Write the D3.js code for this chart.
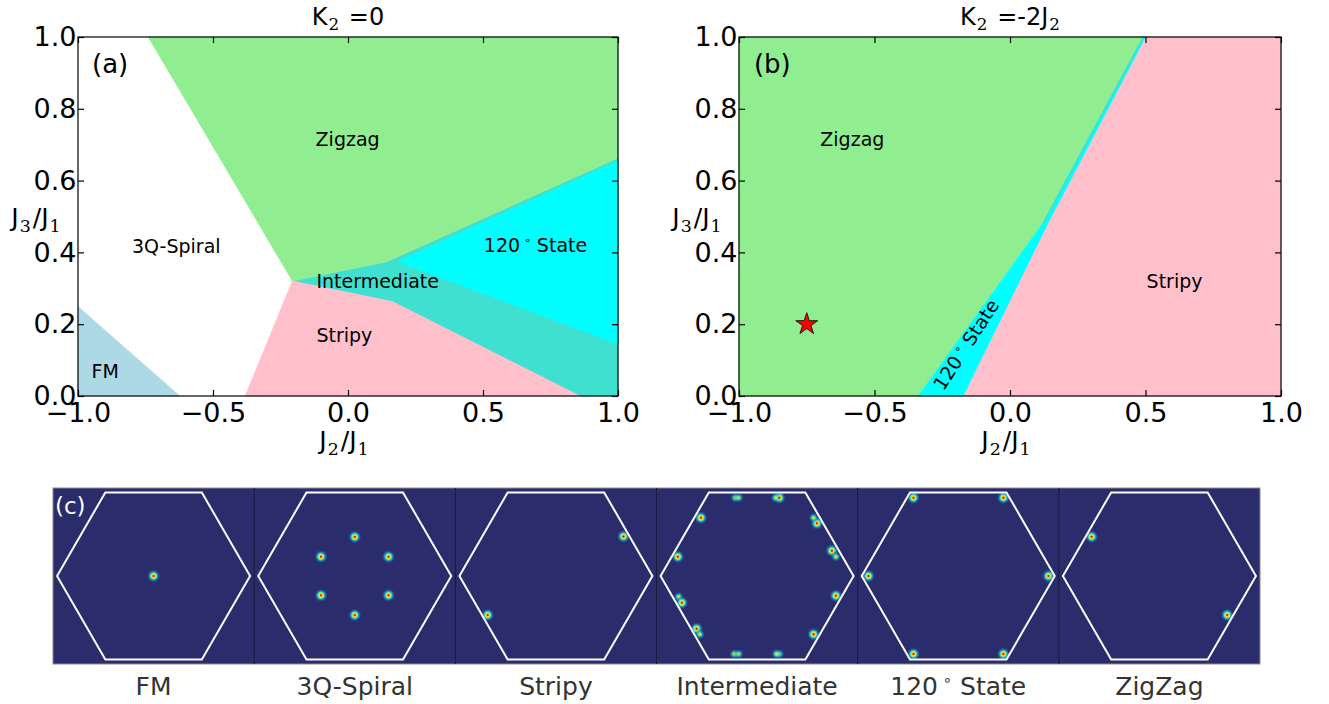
<!DOCTYPE html>
<html>
<head>
<meta charset="utf-8">
<title>Phase diagram</title>
<script src="https://cdn.jsdelivr.net/npm/d3@7"></script>
<style>
    body { margin: 0; background: #fff; }
    text { font-family: "DejaVu Sans", sans-serif; }
</style>
</head>
<body>
<svg width="1329" height="704" id="mainsvg"></svg>
<script>
// ---------------- data ----------------
const j2Ticks = [-1, -0.5, 0, 0.5, 1];
const j3Ticks = [0, 0.2, 0.4, 0.6, 0.8, 1];

// panel (a): K2 = 0, regions in (J2/J1, J3/J1)
const a3QSpiral     = [[-1, 1], [-0.74, 1], [-0.206, 0.32], [-0.381, 0], [-1, 0]];
const aIntermediate = [[-0.206, 0.32], [0.143, 0.374], [1, 0.663], [1, 0], [0.859, 0], [0.164, 0.263]];
const aZigzag       = [[-0.74, 1], [1, 1], [1, 0.663], [0.143, 0.374], [-0.206, 0.32]];
const aStripy       = [[-0.206, 0.32], [0.164, 0.263], [0.859, 0], [-0.381, 0]];
const a120State     = [[0.185, 0.374], [1, 0.655], [1, 0.145]];
const aFM           = [[-1, 0.249], [-0.623, 0], [-1, 0]];

// panel (b): K2 = -2 J2
const bZigzag       = [[-1, 0], [-0.339, 0], [0.12, 0.48], [0.491, 1], [-1, 1]];
const b120State     = [[-0.339, 0], [-0.173, 0], [0.134, 0.472], [0.5, 1], [0.491, 1], [0.12, 0.48]];
const bIntermediate = [[0.12, 0.48], [0.491, 1], [0.496, 1], [0.125, 0.479]];
const bStripy       = [[-0.173, 0], [1, 0], [1, 1], [0.5, 1], [0.134, 0.472]];
const bStar         = [-0.75, 0.2];

// region labels (text, data position)
const aLabelText = ["Zigzag", "3Q-Spiral", "120°", "Intermediate", "Stripy", "FM"];
const aLabelPos  = [[-0.12, 0.696], [-0.80, 0.398], [0.503, 0.40], [-0.117, 0.30], [-0.117, 0.151], [-0.95, 0.05]];
const bLabelText = ["Zigzag", "Stripy"];
const bLabelPos  = [[-0.70, 0.696], [0.504, 0.30]];
const bRotLabelPos = [-0.245, 0.012];

// panel (c): structure factor peaks, in units of the zone-corner distance
const sfNames = ["FM", "3Q-Spiral", "Stripy", "Intermediate", "120°", "ZigZag"];
const sfPeaks = [
    [[0, 0, 1]],
    [[0, 0.405, 1], [0.35, 0.2, 1], [0.35, -0.2, 1], [0, -0.405, 1], [-0.35, 0.2, 1], [-0.35, -0.2, 1]],
    [[0.70, 0.41, 1], [-0.707, -0.404, 1]],
    [[-0.226, 0.811, 0.7], [-0.19, 0.811, 0.6], [0.230, 0.811, 1], [0.19, 0.811, 0.6],
     [-0.582, 0.604, 1], [0.620, 0.546, 1], [0.585, 0.604, 0.7],
     [-0.821, 0.200, 1], [0.775, 0.262, 1], [0.817, 0.200, 0.7], [0.817, -0.204, 1],
     [-0.813, -0.215, 0.7], [-0.779, -0.277, 1], [-0.627, -0.546, 1], [-0.593, -0.604, 0.7],
     [0.585, -0.604, 1], [-0.236, -0.808, 0.7], [-0.19, -0.808, 0.6], [0.230, -0.808, 0.7], [0.20, -0.808, 0.7]],
    [[-0.464, 0.811, 1], [0.468, 0.811, 1], [-0.931, 0, 1], [0.935, 0, 1], [-0.464, -0.808, 1], [0.468, -0.808, 1]],
    [[-0.702, 0.407, 1], [0.702, -0.404, 1]]
];
const hexAngles = [0, 60, 120, 180, 240, 300];

// ---------------- layout ----------------
const main_svg = d3.select("#mainsvg");
const frameA = {left: 78, right: 618, top: 37, bottom: 396};
const frameB = {left: 739, right: 1281, top: 37, bottom: 396};
const colors = {
    zig: "#90ee90", stripy: "#ffc0cb", inter: "#40e0d0",
    cyan: "#00ffff", fm: "#add8e6", spiral: "#ffffff"
};

const line = d3.line();

function makePanel(frame) {
    const x = d3.scaleLinear().domain([-1, 1]).range([frame.left, frame.right]);
    const y = d3.scaleLinear().domain([0, 1]).range([frame.bottom, frame.top]);
    return {x, y, g: main_svg.append("g")};
}

function drawRegion(p, pts, fill) {
    p.g.append("path")
        .attr("d", line(pts.map(d => [p.x(d[0]), p.y(d[1])])) + "Z")
        .attr("fill", fill)
        .attr("stroke", fill)
        .attr("stroke-width", 0.6);
}

function drawAxes(p) {
    const fmt = d3.format(".1f");
    const [x0, x1] = p.x.range();
    const [y0, y1] = p.y.range();
    p.g.append("rect")
        .attr("x", x0).attr("y", y1)
        .attr("width", x1 - x0).attr("height", y0 - y1)
        .attr("fill", "none").attr("stroke", "#000").attr("stroke-width", 1.2);

    const bottom = p.g.append("g").attr("transform", `translate(0,${y0})`)
        .call(d3.axisBottom(p.x).tickValues(j2Ticks).tickSize(-6).tickSizeOuter(0).tickPadding(7).tickFormat(fmt));
    const left = p.g.append("g").attr("transform", `translate(${x0},0)`)
        .call(d3.axisLeft(p.y).tickValues(j3Ticks).tickSize(-6).tickSizeOuter(0).tickPadding(1.5).tickFormat(fmt));
    const top = p.g.append("g").attr("transform", `translate(0,${y1})`)
        .call(d3.axisTop(p.x).tickValues(j2Ticks).tickSize(-6).tickSizeOuter(0).tickFormat(""));
    const right = p.g.append("g").attr("transform", `translate(${x1},0)`)
        .call(d3.axisRight(p.y).tickValues(j3Ticks).tickSize(-6).tickSizeOuter(0).tickFormat(""));

    [bottom, left, top, right].forEach(a => {
        a.selectAll(".domain").remove();
        a.selectAll("line").attr("stroke", "#000").attr("stroke-width", 1.2);
        a.attr("font-family", "DejaVu Sans").attr("font-size", 27);
        a.selectAll("text").attr("fill", "#000");
    });
}

// math-like label: base, sub, base, sub ...
function mathText(parent, parts, size) {
    const t = parent.append("text").attr("font-size", size).attr("fill", "#000");
    let down = false;
    parts.forEach((s, i) => {
        const sub = i % 2 === 1;
        const ts = t.append("tspan").text(s);
        if (sub) {
            ts.attr("dy", size * 0.22).attr("dx", 1).attr("font-size", size * 0.7).attr("font-family", "DejaVu Serif");
            down = true;
        } else if (down) {
            ts.attr("dy", -size * 0.22).attr("dx", 2);
            down = false;
        }
    });
    return t;
}

function degreeText(parent, size) {
    const t = parent.append("text").attr("font-size", size).attr("fill", "#000");
    t.append("tspan").text("120");
    t.append("tspan").attr("dy", -size * 0.42).attr("font-size", size * 0.6).text(" ∘");
    t.append("tspan").attr("dy", size * 0.42).text("  State");
    return t;
}

// ---------------- panel (a) ----------------
const pa = makePanel(frameA);
drawRegion(pa, a3QSpiral, colors.spiral);
drawRegion(pa, aIntermediate, colors.inter);
drawRegion(pa, aZigzag, colors.zig);
drawRegion(pa, aStripy, colors.stripy);
drawRegion(pa, a120State, colors.cyan);
drawRegion(pa, aFM, colors.fm);
drawAxes(pa);

aLabelText.forEach((s, i) => {
    const pos = aLabelPos[i];
    if (s === "120°") {
        degreeText(pa.g, 19).attr("x", pa.x(pos[0])).attr("y", pa.y(pos[1]));
    } else {
        pa.g.append("text").attr("x", pa.x(pos[0])).attr("y", pa.y(pos[1]))
            .attr("font-size", 19).attr("fill", "#000").text(s);
    }
});
pa.g.append("text").attr("x", pa.x(-0.948)).attr("y", pa.y(0.9)).attr("font-size", 26).text("(a)");

mathText(pa.g, ["K", "2", " =0"], 24)
    .attr("x", (frameA.left + frameA.right) / 2).attr("y", 25).attr("text-anchor", "middle");
mathText(pa.g, ["J", "2", "/J", "1"], 25)
    .attr("x", (frameA.left + frameA.right) / 2 - 4).attr("y", 449).attr("text-anchor", "middle");
mathText(pa.g, ["J", "3", "/J", "1"], 25)
    .attr("x", 36).attr("y", 226).attr("text-anchor", "middle");

// ---------------- panel (b) ----------------
const pb = makePanel(frameB);
drawRegion(pb, bZigzag, colors.zig);
drawRegion(pb, bStripy, colors.stripy);
drawRegion(pb, b120State, colors.cyan);
drawRegion(pb, bIntermediate, colors.inter);
drawAxes(pb);

bLabelText.forEach((s, i) => {
    pb.g.append("text").attr("x", pb.x(bLabelPos[i][0])).attr("y", pb.y(bLabelPos[i][1]))
        .attr("font-size", 19).attr("fill", "#000").text(s);
});
degreeText(pb.g, 19)
    .attr("transform", `translate(${pb.x(bRotLabelPos[0])},${pb.y(bRotLabelPos[1])}) rotate(-57)`);
pb.g.append("text").attr("x", pb.x(-0.945)).attr("y", pb.y(0.9)).attr("font-size", 26).text("(b)");

pb.g.append("path")
    .attr("d", d3.symbol(d3.symbolStar).size(150)())
    .attr("transform", `translate(${pb.x(bStar[0])},${pb.y(bStar[1])})`)
    .attr("fill", "#ff0000").attr("stroke", "#000").attr("stroke-width", 0.8);

mathText(pb.g, ["K", "2", " =-2J", "2"], 24)
    .attr("x", (frameB.left + frameB.right) / 2).attr("y", 25).attr("text-anchor", "middle");
mathText(pb.g, ["J", "2", "/J", "1"], 25)
    .attr("x", (frameB.left + frameB.right) / 2 - 4).attr("y", 449).attr("text-anchor", "middle");
mathText(pb.g, ["J", "3", "/J", "1"], 25)
    .attr("x", 697).attr("y", 226).attr("text-anchor", "middle");

// ---------------- panel (c) ----------------
const gc = main_svg.append("g");
const boxC = {left: 53, right: 1260, top: 488, bottom: 664};
const cy = 576, hexR = 96.5;
const defs = main_svg.append("defs");

const strong = defs.append("radialGradient").attr("id", "peak");
[[0, "#800000", 1], [0.1, "#ff2000", 1], [0.22, "#ffd800", 1], [0.4, "#70ff90", 0.95],
 [0.62, "#10b0ff", 0.6], [1, "#2a2c6b", 0]].forEach(s =>
    strong.append("stop").attr("offset", s[0]).attr("stop-color", s[1]).attr("stop-opacity", s[2]));
const weak = defs.append("radialGradient").attr("id", "peakweak");
[[0, "#f0ff20", 1], [0.25, "#a0ff60", 0.95], [0.55, "#00c0ff", 0.6], [1, "#2a2c6b", 0]].forEach(s =>
    weak.append("stop").attr("offset", s[0]).attr("stop-color", s[1]).attr("stop-opacity", s[2]));

gc.append("rect")
    .attr("x", boxC.left).attr("y", boxC.top)
    .attr("width", boxC.right - boxC.left).attr("height", boxC.bottom - boxC.top)
    .attr("fill", "#2a2c6b").attr("stroke", "#8a8a8a").attr("stroke-width", 1);

const band = d3.scaleBand().domain(d3.range(sfNames.length)).range([boxC.left, boxC.right]);

sfNames.forEach((name, i) => {
    const cx = band(i) + band.bandwidth() / 2;
    const qx = d3.scaleLinear().domain([-1, 1]).range([cx - hexR, cx + hexR]);
    const qy = d3.scaleLinear().domain([-1, 1]).range([cy + hexR, cy - hexR]);
    const sub = gc.append("g");

    if (i > 0) {
        sub.append("line").attr("x1", band(i)).attr("x2", band(i))
            .attr("y1", boxC.top).attr("y2", boxC.bottom)
            .attr("stroke", "#1a1a3a").attr("stroke-width", 1);
    }

    sub.selectAll("circle.peak").data(sfPeaks[i]).enter().append("circle")
        .attr("class", "peak")
        .attr("cx", d => qx(d[0])).attr("cy", d => qy(d[1]))
        .attr("r", d => d[2] >= 1 ? 7 : 5.5)
        .attr("fill", d => d[2] >= 1 ? "url(#peak)" : "url(#peakweak)")
        .attr("opacity", d => d[2] >= 1 ? 1 : d[2] + 0.2);

    const hex = hexAngles.map(a => [qx(Math.cos(a * Math.PI / 180)), qy(Math.sin(a * Math.PI / 180))]);
    sub.append("path").attr("d", line(hex) + "Z")
        .attr("fill", "none").attr("stroke", "#fff").attr("stroke-width", 2);

    if (name === "120°") {
        degreeText(gc, 25).attr("x", cx).attr("y", 695).attr("text-anchor", "middle").attr("fill", "#333");
    } else {
        gc.append("text").attr("x", cx).attr("y", 695).attr("text-anchor", "middle")
            .attr("font-size", 25).attr("fill", "#333").text(name);
    }
});

gc.append("text").attr("x", 55).attr("y", 514).attr("font-size", 23).attr("fill", "#fff").text("(c)");
</script>
</body>
</html>
